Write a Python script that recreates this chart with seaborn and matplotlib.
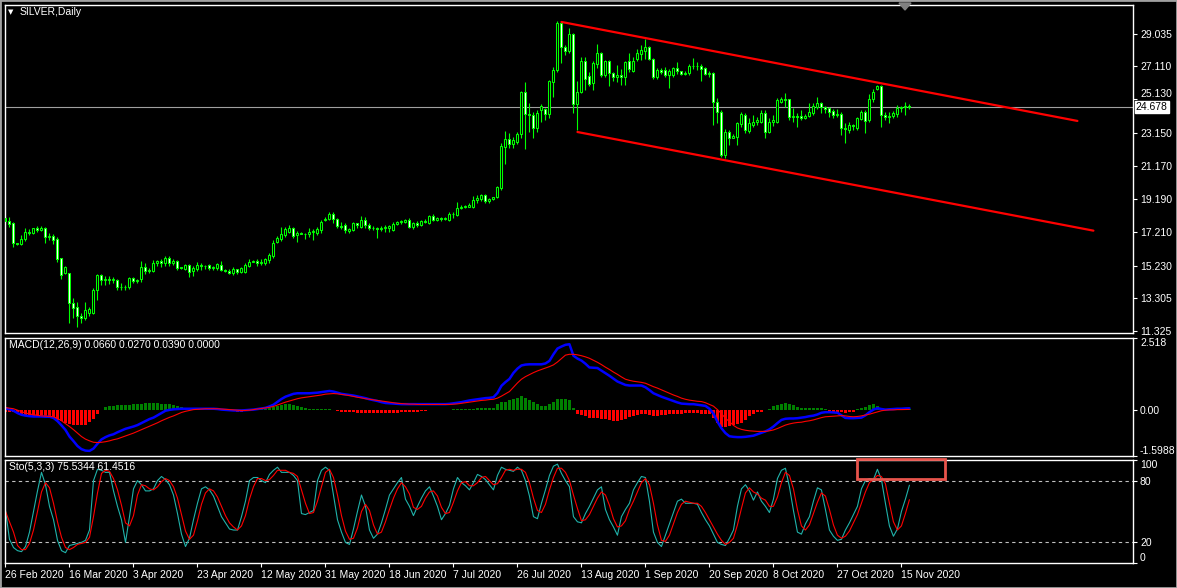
import numpy as np
import matplotlib
matplotlib.use('Agg')
import matplotlib.pyplot as plt
from matplotlib.patches import Rectangle, Polygon
import matplotlib.transforms as mtransforms
import seaborn as sns

sns.set_style("dark", {"axes.facecolor": "black", "figure.facecolor": "black",
                       "axes.edgecolor": "white", "text.color": "white",
                       "xtick.color": "white", "ytick.color": "white", "axes.grid": False})
plt.rcParams['font.family'] = ['Liberation Sans', 'DejaVu Sans']

# == SILVER daily OHLC
open_ = [18.04,17.87,17.79,16.59,16.54,16.80,17.23,17.15,17.45,17.36,
         17.45,16.92,16.99,16.80,15.66,14.77,14.77,12.98,12.76,12.23,
         12.09,12.41,12.41,13.78,14.67,14.37,14.40,14.38,14.37,13.97,
         13.93,13.94,14.49,14.33,14.41,15.13,14.91,14.93,15.37,15.48,
         15.37,15.68,15.37,15.50,15.11,15.05,15.25,14.89,15.05,15.25,
         15.19,15.27,15.07,15.11,15.27,14.97,14.91,14.81,15.01,14.85,
         14.87,15.21,15.46,15.52,15.37,15.37,15.56,15.80,16.65,16.80,
         17.03,17.23,17.47,17.03,17.19,17.13,17.09,17.21,17.15,17.35,
         17.95,18.03,18.30,18.01,17.61,17.65,17.27,17.35,17.75,17.51,
         17.95,17.63,17.49,17.45,17.41,17.47,17.49,17.35,17.71,17.83,
         17.85,17.97,17.53,17.79,17.65,17.91,17.79,18.19,17.95,18.05,
         18.03,17.95,18.29,18.25,18.68,18.72,18.74,18.74,19.14,19.18,
         19.42,19.10,19.20,19.30,19.84,22.32,22.78,22.50,22.61,23.05,
         25.56,24.25,24.21,23.45,24.52,24.55,24.28,26.19,26.89,29.71,
         28.28,28.04,29.03,24.86,25.59,27.42,26.53,26.09,27.24,27.92,
         26.59,27.42,26.69,26.49,26.59,26.45,27.42,26.85,27.52,27.84,
         28.04,28.24,27.52,26.45,26.89,26.89,26.59,26.59,26.99,26.83,
         26.63,26.73,27.13,27.11,27.13,26.99,26.65,26.69,25.00,24.40,
         21.82,23.21,22.86,22.91,23.67,24.21,23.27,23.61,23.81,23.81,
         24.31,23.21,23.81,23.81,25.00,25.16,25.14,24.10,24.15,24.17,
         24.01,24.17,24.34,24.70,24.90,24.66,24.60,24.46,24.21,24.25,
         23.41,23.31,23.61,23.41,23.95,24.38,23.91,25.14,25.74,25.94,
         24.21,24.11,24.15,24.27,24.60,24.66,24.72]
high = [18.19,18.11,17.83,16.60,17.05,17.47,17.39,17.49,17.59,17.59,
        17.53,17.16,17.11,16.92,15.68,15.21,14.79,13.28,13.08,12.39,
        13.04,12.74,13.88,14.70,14.73,14.61,14.61,14.53,14.43,14.21,
        14.07,14.53,14.53,14.45,15.49,15.37,15.07,15.56,15.56,15.64,
        15.80,15.80,15.60,15.56,15.17,15.33,15.33,15.21,15.45,15.37,
        15.29,15.33,15.21,15.41,15.52,15.03,15.03,15.13,15.05,15.15,
        15.37,15.60,15.58,15.64,15.64,15.66,15.96,16.76,16.99,17.51,
        17.51,17.65,17.51,17.31,17.23,17.19,17.45,17.43,17.55,17.95,
        18.14,18.41,18.44,18.09,17.85,17.79,17.45,17.83,17.79,18.19,
        18.11,17.75,17.59,17.55,17.59,17.63,17.65,17.85,17.91,17.95,
        18.01,18.07,17.85,17.87,17.97,17.99,18.25,18.29,18.13,18.11,
        18.15,18.43,18.41,18.99,18.82,18.86,18.96,19.38,19.44,19.50,
        19.50,19.26,19.34,19.98,22.52,23.25,23.11,22.91,23.17,25.64,
        26.19,24.90,24.37,24.51,24.86,24.64,26.27,27.09,29.81,29.81,
        28.38,29.37,29.07,26.23,27.68,27.68,26.79,27.44,28.44,27.98,
        27.48,27.48,26.79,27.19,26.93,27.44,27.88,27.68,28.12,28.38,
        28.72,28.32,27.58,26.99,26.99,27.09,26.93,27.09,27.38,26.85,
        26.85,27.24,27.58,27.38,27.24,27.09,26.81,26.79,25.20,24.50,
        23.35,23.31,23.07,23.81,24.40,24.31,24.01,24.21,24.07,24.50,
        24.50,24.01,24.21,25.20,25.26,25.54,25.18,24.60,24.31,24.50,
        24.26,24.90,24.94,25.26,25.00,24.74,24.66,24.54,24.58,24.40,
        23.71,23.81,23.67,24.10,24.50,24.50,25.46,25.74,26.00,26.00,
        24.40,24.40,24.46,24.80,24.74,25.00,24.86]
low = [17.71,17.55,16.36,16.44,16.46,16.71,17.04,17.11,17.25,17.31,
       16.56,16.76,16.52,15.45,14.41,14.73,11.79,12.09,11.59,11.79,
       11.99,12.23,12.35,13.18,14.07,14.07,14.13,14.21,13.78,13.78,
       13.78,13.82,14.21,14.21,14.27,14.73,14.81,14.85,15.21,15.13,
       15.21,15.21,15.25,14.97,15.01,14.97,14.53,14.61,14.93,14.97,
       15.05,14.97,14.97,14.97,14.93,14.83,14.73,14.69,14.73,14.79,
       14.81,15.13,15.44,15.21,15.29,15.27,15.40,15.66,16.60,16.71,
       16.95,17.15,16.86,16.66,17.11,16.83,16.95,16.76,17.05,17.19,
       17.91,17.95,17.75,17.45,17.39,17.19,17.19,17.31,17.45,17.47,
       17.45,17.35,17.35,16.89,17.27,17.23,17.25,17.31,17.63,17.71,
       17.75,17.45,17.43,17.55,17.61,17.75,17.73,17.87,17.89,17.91,
       17.97,17.91,18.05,18.19,18.58,18.64,18.70,18.68,18.94,19.06,
       18.98,18.98,19.12,19.24,19.74,21.27,22.22,22.26,22.50,22.82,
       22.18,23.21,22.85,23.21,23.81,23.91,24.04,25.30,26.75,27.32,
       27.78,27.88,24.31,23.31,25.50,25.70,25.93,25.70,26.99,26.49,
       26.49,25.93,26.25,26.19,26.00,26.00,26.79,26.79,27.44,27.48,
       27.52,27.48,26.33,26.33,26.65,26.49,25.80,26.49,26.65,26.57,
       26.57,26.59,26.93,26.89,26.25,26.57,26.49,23.61,23.75,21.72,
       21.62,22.42,22.82,22.42,23.51,23.11,23.11,23.51,23.61,23.71,
       22.82,23.11,23.55,23.75,24.94,24.66,23.91,23.81,23.51,23.91,
       23.97,24.11,24.20,24.54,24.31,24.31,24.10,24.01,24.11,23.01,
       22.56,23.11,23.31,23.31,23.91,23.15,23.81,25.00,25.70,23.51,
       23.91,23.71,24.01,24.11,24.40,24.21,24.58]
close = [17.86,17.71,16.59,16.50,16.80,17.23,17.17,17.45,17.36,17.46,
         16.92,17.00,16.77,15.62,14.69,15.13,12.98,12.72,12.23,12.11,
         12.58,12.62,13.78,14.67,14.37,14.40,14.38,14.45,13.97,13.93,
         13.94,14.49,14.33,14.38,15.13,14.91,14.97,15.37,15.48,15.40,
         15.66,15.37,15.49,15.11,15.09,15.25,14.85,15.09,15.25,15.19,
         15.23,15.07,15.13,15.31,14.97,14.91,14.81,15.01,14.85,15.07,
         15.27,15.46,15.52,15.37,15.47,15.60,15.88,16.60,16.89,17.11,
         17.43,17.47,16.99,17.19,17.13,17.09,17.21,17.27,17.43,17.85,
         18.01,18.32,18.03,17.61,17.55,17.35,17.41,17.75,17.63,17.95,
         17.63,17.49,17.45,17.41,17.47,17.49,17.57,17.71,17.83,17.85,
         17.97,17.53,17.79,17.65,17.91,17.83,18.19,17.95,18.05,18.03,
         18.07,18.29,18.33,18.68,18.72,18.74,18.86,19.14,19.24,19.42,
         19.10,19.20,19.30,19.90,22.38,22.76,22.50,22.72,23.07,25.56,
         24.25,24.19,23.45,24.31,24.74,24.25,26.23,26.89,29.71,28.24,
         28.04,29.03,24.86,25.59,27.42,26.33,26.05,27.32,27.88,26.59,
         27.44,26.69,26.49,26.59,26.49,27.38,26.93,27.42,27.88,28.08,
         28.24,27.52,26.45,26.89,26.77,26.59,26.85,26.99,26.83,26.63,
         26.71,27.13,27.11,27.13,26.93,26.65,26.73,25.00,24.40,21.82,
         23.21,22.82,22.95,23.71,24.27,23.31,23.75,23.81,23.91,24.34,
         23.21,23.81,23.93,25.10,25.16,25.12,24.10,24.15,24.07,24.01,
         24.12,24.39,24.74,24.90,24.66,24.54,24.40,24.21,24.29,23.41,
         23.35,23.61,23.53,24.01,24.38,23.87,25.14,25.58,25.94,24.21,
         24.11,24.17,24.31,24.60,24.66,24.72,24.68]

# == MACD(12,26,9): main, signal and histogram as drawn
macd_main = [0.07,0.03,-0.02,-0.10,-0.16,-0.19,-0.21,-0.22,-0.22,-0.22,
             -0.23,-0.23,-0.27,-0.38,-0.53,-0.69,-0.92,-1.08,-1.25,-1.36,
             -1.41,-1.42,-1.34,-1.17,-1.02,-0.94,-0.88,-0.84,-0.77,-0.71,
             -0.65,-0.61,-0.57,-0.52,-0.45,-0.38,-0.31,-0.26,-0.18,-0.10,
             -0.02,0.01,0.03,0.04,0.05,0.05,0.05,0.05,0.05,0.05,
             0.05,0.05,0.05,0.04,0.02,0.01,0.00,-0.01,-0.01,-0.01,
             0.00,0.01,0.02,0.04,0.06,0.08,0.13,0.19,0.29,0.39,
             0.47,0.52,0.57,0.59,0.59,0.59,0.59,0.60,0.61,0.63,
             0.65,0.67,0.65,0.61,0.57,0.55,0.53,0.51,0.48,0.45,
             0.42,0.38,0.35,0.32,0.28,0.25,0.24,0.23,0.22,0.21,
             0.21,0.21,0.21,0.21,0.21,0.21,0.21,0.21,0.21,0.21,
             0.21,0.22,0.24,0.26,0.28,0.31,0.34,0.36,0.38,0.40,
             0.42,0.43,0.45,0.60,0.85,0.98,1.09,1.30,1.45,1.56,
             1.59,1.60,1.60,1.60,1.60,1.63,1.72,1.95,2.15,2.22,
             2.28,2.30,1.90,1.80,1.73,1.62,1.49,1.48,1.47,1.38,
             1.29,1.20,1.10,1.00,0.94,0.88,0.86,0.86,0.86,0.86,
             0.80,0.70,0.59,0.53,0.47,0.42,0.37,0.32,0.27,0.23,
             0.22,0.21,0.21,0.19,0.17,0.15,0.05,-0.12,-0.40,-0.63,
             -0.80,-0.91,-0.93,-0.94,-0.94,-0.93,-0.91,-0.89,-0.84,-0.79,
             -0.74,-0.67,-0.57,-0.45,-0.34,-0.30,-0.29,-0.29,-0.28,-0.26,
             -0.24,-0.21,-0.19,-0.15,-0.09,-0.07,-0.07,-0.08,-0.09,-0.18,
             -0.27,-0.28,-0.28,-0.27,-0.26,-0.18,-0.07,0.02,0.07,0.04,
             0.02,0.03,0.04,0.05,0.05,0.06,0.066]
macd_signal = [0.09,0.07,0.05,0.00,-0.05,-0.10,-0.13,-0.16,-0.18,-0.20,
               -0.21,-0.22,-0.23,-0.29,-0.37,-0.47,-0.57,-0.68,-0.80,-0.92,
               -1.01,-1.07,-1.12,-1.13,-1.12,-1.10,-1.07,-1.03,-1.00,-0.95,
               -0.90,-0.85,-0.80,-0.74,-0.68,-0.62,-0.56,-0.50,-0.44,-0.37,
               -0.31,-0.25,-0.20,-0.14,-0.08,-0.04,-0.01,0.02,0.03,0.04,
               0.05,0.05,0.05,0.05,0.04,0.03,0.02,0.01,0.00,-0.01,
               -0.01,0.00,0.02,0.04,0.06,0.08,0.10,0.13,0.18,0.23,
               0.28,0.32,0.36,0.40,0.43,0.45,0.47,0.49,0.51,0.53,
               0.56,0.57,0.58,0.57,0.55,0.53,0.51,0.48,0.45,0.43,
               0.40,0.38,0.36,0.34,0.32,0.30,0.28,0.26,0.24,0.23,
               0.22,0.21,0.21,0.20,0.20,0.20,0.20,0.20,0.20,0.20,
               0.20,0.20,0.21,0.22,0.24,0.26,0.28,0.30,0.32,0.34,
               0.35,0.37,0.38,0.42,0.49,0.57,0.65,0.80,0.95,1.08,
               1.17,1.24,1.31,1.37,1.42,1.47,1.52,1.58,1.68,1.80,
               1.92,1.95,1.95,1.93,1.90,1.86,1.81,1.74,1.67,1.59,
               1.50,1.42,1.33,1.25,1.16,1.08,1.04,1.01,0.99,0.97,
               0.94,0.88,0.82,0.77,0.71,0.65,0.59,0.53,0.48,0.42,
               0.38,0.35,0.33,0.31,0.30,0.26,0.20,0.14,0.02,-0.12,
               -0.28,-0.40,-0.53,-0.62,-0.67,-0.70,-0.72,-0.73,-0.74,-0.74,
               -0.74,-0.72,-0.69,-0.64,-0.58,-0.52,-0.48,-0.45,-0.43,-0.42,
               -0.39,-0.37,-0.34,-0.30,-0.26,-0.23,-0.22,-0.21,-0.20,-0.19,
               -0.20,-0.22,-0.23,-0.22,-0.20,-0.17,-0.14,-0.10,-0.06,-0.02,
               0.00,0.01,0.01,0.02,0.02,0.025,0.027]
macd_hist = [-0.05,-0.06,-0.07,-0.08,-0.15,-0.18,-0.19,-0.20,-0.20,-0.20,
             -0.20,-0.21,-0.28,-0.33,-0.38,-0.44,-0.49,-0.51,-0.53,-0.53,
             -0.50,-0.42,-0.32,-0.15,0.01,0.12,0.14,0.16,0.17,0.18,
             0.18,0.19,0.20,0.21,0.23,0.24,0.24,0.24,0.24,0.23,
             0.21,0.20,0.18,0.13,0.10,0.08,0.04,0.03,0.03,0.02,
             0.02,0.02,0.02,0.02,0.01,0.00,-0.03,-0.04,-0.05,-0.05,
             -0.04,0.01,0.02,0.03,0.04,0.05,0.08,0.12,0.16,0.19,
             0.22,0.20,0.17,0.14,0.10,0.07,0.05,0.04,0.04,0.04,
             0.04,0.03,0.01,-0.03,-0.05,-0.07,-0.08,-0.08,-0.09,-0.09,
             -0.10,-0.10,-0.10,-0.10,-0.10,-0.10,-0.10,-0.09,-0.09,-0.08,
             -0.08,-0.07,-0.06,-0.05,-0.03,-0.02,-0.01,-0.01,0.00,0.01,
             0.01,0.02,0.03,0.04,0.04,0.05,0.05,0.05,0.06,0.06,
             0.06,0.07,0.08,0.20,0.27,0.30,0.36,0.40,0.44,0.48,
             0.42,0.35,0.29,0.22,0.16,0.13,0.20,0.30,0.40,0.40,
             0.38,0.35,0.07,-0.14,-0.18,-0.22,-0.26,-0.27,-0.28,-0.30,
             -0.32,-0.35,-0.37,-0.37,-0.35,-0.30,-0.25,-0.19,-0.16,-0.14,
             -0.15,-0.17,-0.19,-0.19,-0.17,-0.16,-0.15,-0.14,-0.13,-0.12,
             -0.11,-0.10,-0.10,-0.11,-0.12,-0.12,-0.14,-0.28,-0.45,-0.57,
             -0.57,-0.55,-0.52,-0.48,-0.44,-0.33,-0.22,-0.15,-0.08,-0.05,
             0.02,0.04,0.13,0.18,0.22,0.24,0.21,0.17,0.12,0.09,
             0.08,0.08,0.07,0.07,0.06,0.05,-0.03,-0.05,-0.06,-0.08,
             -0.09,-0.07,-0.05,0.05,0.08,0.12,0.17,0.21,0.16,0.06,
             0.04,0.04,0.04,0.04,0.04,0.04,0.039]

# == Stochastic(5,3,3) %K and %D
sto_k = [51,23,15,12,11,16,30,50,70,88, 76,55,42,22,12,10,17,18,19,20,
         22,32,80,91,90,88,88,70,55,42, 20,45,72,80,76,70,70,72,80,84,
         81,76,66,48,28,16,24,42,58,72, 74,71,65,55,45,39,33,32,32,45,
         60,80,83,83,80,78,86,90,93,88, 88,88,85,80,48,47,49,51,80,90,
         93,90,66,42,30,20,18,33,50,66, 55,32,24,28,39,52,66,72,78,83,
         62,55,46,55,63,70,74,65,55,42, 48,56,72,83,78,75,71,78,86,84,
         81,76,71,85,93,91,90,89,93,90, 80,65,45,43,58,71,85,94,96,87,
         80,74,45,40,39,48,55,63,71,74, 52,42,35,27,45,52,58,71,78,84,
         83,60,30,20,16,27,38,49,60,62, 58,58,58,57,49,42,36,28,20,18,
         17,24,32,55,72,76,70,61,69,60, 55,49,62,82,90,92,74,51,30,28,
         38,45,60,73,71,52,32,26,22,23, 32,39,47,55,72,80,82,81,91,81,
         58,36,26,33,50,62,75.53]
sto_d = [50,40,30,17,13,13,19,32,50,69, 78,73,58,40,25,15,13,15,18,19,
         20,25,45,68,87,90,89,82,71,56, 39,36,46,66,76,75,72,71,74,79,
         82,80,74,63,47,31,23,27,41,57, 68,72,70,64,55,46,39,35,32,36,
         46,62,74,82,82,80,81,85,90,90, 90,88,87,84,71,58,48,49,60,74,
         88,91,83,66,46,31,23,24,34,50, 57,51,37,28,30,40,52,63,72,78,
         74,67,54,52,55,63,69,70,65,54, 48,49,59,70,78,79,75,75,78,83,
         84,80,76,77,83,90,91,90,91,91, 88,78,63,51,49,57,71,83,92,92,
         88,80,66,53,41,42,47,55,63,69, 66,56,43,35,36,41,52,60,69,78,
         82,76,58,37,22,21,27,38,49,57, 60,59,58,58,55,49,42,35,28,22,
         18,20,24,37,53,68,73,69,67,63, 61,55,55,64,78,88,85,72,52,36,
         32,37,48,59,68,65,52,37,27,24, 26,31,39,47,58,69,78,81,85,84,
         77,58,40,32,36,48,61.45]

# == channel trendlines (bar index, price)
upper_x, upper_y = [139, 268], [29.75, 23.85]
lower_x, lower_y = [143, 272], [23.19, 17.31]
bid_price = 24.678

price_ticks = [29.035, 27.110, 25.130, 23.150, 21.170, 19.190, 17.210, 15.230, 13.305, 11.325]
date_idx = list(range(0, 225, 16))
date_labels = ['26 Feb 2020', '16 Mar 2020', '3 Apr 2020', '23 Apr 2020', '12 May 2020',
               '31 May 2020', '18 Jun 2020', '7 Jul 2020', '26 Jul 2020', '13 Aug 2020',
               '1 Sep 2020', '20 Sep 2020', '8 Oct 2020', '27 Oct 2020', '15 Nov 2020']

LIME = '#00ff00'
FS = 7.5
W, H = 1177, 588
fig = plt.figure(figsize=(W / 100, H / 100), dpi=100)
fig.patch.set_facecolor('black')


def px_axes(x0, y0, x1, y1):
    return fig.add_axes([x0 / W, 1 - y1 / H, (x1 - x0) / W, (y1 - y0) / H])


ax_p = px_axes(5, 5, 1133, 333)
ax_m = px_axes(5, 338, 1133, 456)
ax_s = px_axes(5, 460, 1133, 563)

o, h, l, c = map(np.array, (open_, high, low, close))
bars = np.arange(len(c))

# == price panel: candles
ax_p.axhline(bid_price, color='#a0a0a0', lw=0.8, zorder=1)
ax_p.vlines(bars, l, h, color=LIME, lw=0.8, zorder=2)
bull = c >= o
body_h = np.maximum(np.abs(c - o), 0.03)
ax_p.bar(bars, body_h, bottom=np.minimum(o, c), width=0.5,
         color=np.where(bull, 'black', 'white'), edgecolor=LIME, linewidth=0.75, zorder=3)
ax_p.plot(upper_x, upper_y, color='#ff0000', lw=1.6, zorder=4)
ax_p.plot(lower_x, lower_y, color='#ff0000', lw=1.6, zorder=4)
ax_p.set_ylim(11.21, 30.76)
ax_p.yaxis.tick_right()
ax_p.set_yticks(price_ticks)
ax_p.set_yticklabels(['{:.3f}'.format(v) for v in price_ticks])
# the bid box sits over the 25.130 label, lift that label clear of it
ax_p.get_yticklabels()[2].set_va('bottom')
ax_p.text(1.0025, bid_price, '{:.3f}'.format(bid_price), color='black', fontsize=FS,
          transform=mtransforms.blended_transform_factory(ax_p.transAxes, ax_p.transData),
          ha='left', va='center', zorder=10, clip_on=False,
          bbox=dict(boxstyle='square,pad=0.12', fc='white', ec='white'))

# == MACD panel
ax_m.bar(bars, macd_hist, width=0.6, linewidth=0,
         color=np.where(np.array(macd_hist) >= 0, '#008000', '#ff0000'))
sns.lineplot(x=bars, y=macd_main, ax=ax_m, color='#0000ff', lw=1.8)
sns.lineplot(x=bars, y=macd_signal, ax=ax_m, color='#ff0000', lw=0.8)
ax_m.set_ylim(-1.5988, 2.518)
ax_m.yaxis.tick_right()
ax_m.set_yticks([2.518, 0.0, -1.5988])
ax_m.set_yticklabels(['2.518', '0.00', '-1.5988'])
ax_m.get_yticklabels()[0].set_va('top')
ax_m.get_yticklabels()[2].set_va('bottom')

# == Stochastic panel
for lev in (20, 80):
    ax_s.axhline(lev, color='#c0c0c0', lw=0.8, ls=(0, (3, 3)))
sns.lineplot(x=bars, y=sto_k, ax=ax_s, color='#20b2aa', lw=0.8)
sns.lineplot(x=bars, y=sto_d, ax=ax_s, color='#ff0000', lw=0.8)
ax_s.set_ylim(0, 100)
ax_s.yaxis.tick_right()
ax_s.set_yticks([100, 80, 20, 0])
ax_s.set_yticklabels(['100', '80', '20', '0'])
ax_s.get_yticklabels()[0].set_va('top')
ax_s.get_yticklabels()[3].set_va('bottom')
ax_s.add_patch(Rectangle((212.9, 81.3), 22, 19.5, fill=False, edgecolor='#e8544c',
                         lw=2, clip_on=False, zorder=10))
ax_s.set_xticks(date_idx)
ax_s.set_xticklabels(date_labels)
for t in ax_s.get_xticklabels():
    t.set_ha('left')

for ax in (ax_p, ax_m, ax_s):
    ax.set_facecolor('black')
    ax.set_xlim(-0.125, 281.9)
    ax.set_xlabel('')
    ax.set_ylabel('')
    for sp in ax.spines.values():
        sp.set_color('white')
        sp.set_linewidth(1)
    ax.tick_params(axis='y', which='both', right=True, left=False, length=3, width=0.8,
                   colors='white', labelsize=FS, pad=2, direction='out')
    if ax is not ax_s:
        ax.tick_params(axis='x', bottom=False, labelbottom=False)
ax_s.tick_params(axis='x', bottom=True, length=3, width=0.8, colors='white',
                 labelsize=FS, pad=2, direction='out')

# == titles
fig.text(8 / W, 1 - 12 / H, '\u25bc', fontsize=5, color='white', va='center',
         family=['DejaVu Sans'])
fig.text(20 / W, 1 - 12 / H, 'SILVER,Daily', fontsize=FS, color='white', va='center')
fig.text(9 / W, 1 - 345 / H, 'MACD(12,26,9) 0.0660 0.0270 0.0390 0.0000', fontsize=FS,
         color='white', va='center')
fig.text(9 / W, 1 - 467 / H, 'Sto(5,3,3) 75.5344 61.4516', fontsize=FS, color='white',
         va='center')

# == chart shift marker and window frame
fig.add_artist(Polygon([(899 / W, 1 - 3 / H), (911 / W, 1 - 3 / H), (905 / W, 1 - 10 / H)],
                       closed=True, transform=fig.transFigure, color='#808080'))
fig.add_artist(Rectangle((0, 0), 1, 1, transform=fig.transFigure, fill=False,
                         edgecolor='#a0a0a0', lw=2))

fig.savefig('out.png', dpi=100, facecolor='black')
